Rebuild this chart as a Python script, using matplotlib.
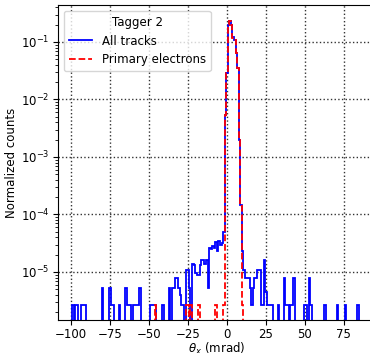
import numpy as np
import matplotlib

matplotlib.use("Agg")
import matplotlib.pyplot as plt

plt.rcParams["font.size"] = 8.5

# 1 mrad bins centred on integers
bin_edges = np.arange(-100.5, 101.5, 1.0)

# all tracks: bin centre (mrad) -> normalized counts (non-empty bins only)
all_theta = [
    -99, -97, -96, -93, -92, -91, -80, -75, -74, -73, -69, -65, -64, -63, -62,
    -60, -59, -58, -57, -56, -49, -48, -47, -46, -41, -37, -35, -34, -33, -32,
    -31, -30, -29, -28, -26, -25, -24, -22, -21, -20, -19, -18, -17, -16, -15,
    -14, -13, -12, -11, -10, -9, -8, -7, -6, -5, -4, -3, -2, -1, 0, 1, 2, 3,
    4, 5, 6, 7, 8, 9, 10, 11, 12, 13, 14, 15, 16, 17, 18, 19, 20, 21, 22, 23,
    24, 25, 26, 27, 28, 29, 33, 37, 38, 39, 41, 42, 43, 50, 51, 53, 54, 63,
    71, 76, 84,
]
all_counts = [
    2.7e-6, 2.7e-6, 2.7e-6, 2.7e-6, 2.7e-6, 2.7e-6, 5.3e-6, 5.3e-6, 2.7e-6,
    2.7e-6, 2.7e-6, 5.3e-6, 2.7e-6, 2.7e-6, 2.7e-6, 2.7e-6, 2.7e-6, 2.7e-6,
    2.7e-6, 5.3e-6, 2.7e-6, 2.7e-6, 2.7e-6, 2.7e-6, 2.7e-6, 5.3e-6, 5.3e-6,
    5.3e-6, 7.9e-6, 7.9e-6, 5.3e-6, 4.0e-6, 2.7e-6, 2.7e-6, 1.08e-5, 1.08e-5,
    5.3e-6, 1.4e-5, 1.3e-5, 9.5e-6, 9.0e-6, 9.0e-6, 1.3e-5, 1.6e-5, 1.6e-5,
    1.4e-5, 1.6e-5, 5.3e-6, 2.6e-5, 2.5e-5, 2.8e-5, 2.6e-5, 3.3e-5, 2.3e-5,
    3.4e-5, 3.0e-5, 3.2e-5, 5.0e-5, 5.4e-3, 2.86e-2, 0.198, 0.23, 0.195,
    0.12, 0.108, 0.064, 0.035, 1.97e-3, 1.45e-4, 2.3e-5, 1.08e-5, 7.8e-6,
    7.8e-6, 7.8e-6, 5.3e-6, 2.7e-6, 5.3e-6, 7.8e-6, 7.8e-6, 1.08e-5, 1.08e-5,
    2.7e-6, 2.7e-6, 1.6e-5, 4.5e-6, 2.7e-6, 2.7e-6, 2.7e-6, 2.7e-6, 2.7e-6,
    7.8e-6, 2.7e-6, 2.7e-6, 2.7e-6, 2.7e-6, 7.8e-6, 2.7e-6, 2.7e-6, 7.8e-6,
    2.7e-6, 2.7e-6, 2.7e-6, 2.7e-6, 2.7e-6,
]

# primary electrons
prim_theta = [-46, -26, -25, -23, -18, -7, -2, -1, 0, 1, 2, 3, 4, 5, 6, 7, 8, 9, 10]
prim_counts = [
    2.7e-6, 2.7e-6, 2.7e-6, 2.7e-6, 2.7e-6, 2.7e-6, 2.7e-6, 5.35e-3, 2.84e-2,
    0.197, 0.229, 0.194, 0.119, 0.107, 0.0635, 0.0347, 1.95e-3, 1.43e-4, 2.7e-6,
]


def fill_bins(theta, counts):
    vals = np.zeros(len(bin_edges) - 1)
    idx = np.searchsorted(bin_edges, theta) - 1
    vals[idx] = counts
    return vals


all_vals = fill_bins(all_theta, all_counts)
prim_vals = fill_bins(prim_theta, prim_counts)

fig = plt.figure(figsize=(3.70, 3.53), dpi=100)
ax = fig.add_axes([58 / 370, 33 / 353, 317 / 370, 315 / 353])

ax.set_yscale("log")
ax.stairs(all_vals, bin_edges, color="blue", linewidth=1.3, label="All tracks")
ax.stairs(prim_vals, bin_edges, color="red", linestyle="--", linewidth=1.3,
          label="Primary electrons")

ax.set_xlim(-108.5, 95)
ax.set_ylim(1.46e-6, 0.44)
ax.set_xticks([-100, -75, -50, -25, 0, 25, 50, 75])
ax.tick_params(axis="x", pad=2.5)
ax.tick_params(axis="y", which="major", pad=2.5)
ax.grid(True, which="major", linestyle=":", color="0.2", linewidth=1.0)
ax.set_axisbelow(True)

ax.set_xlabel(r"$\theta_x$ (mrad)", labelpad=0)
ax.set_ylabel("Normalized counts", labelpad=2)
ax.legend(title="Tagger 2", loc="upper left", title_fontsize=8.5)

fig.savefig("out.png", dpi=100)
